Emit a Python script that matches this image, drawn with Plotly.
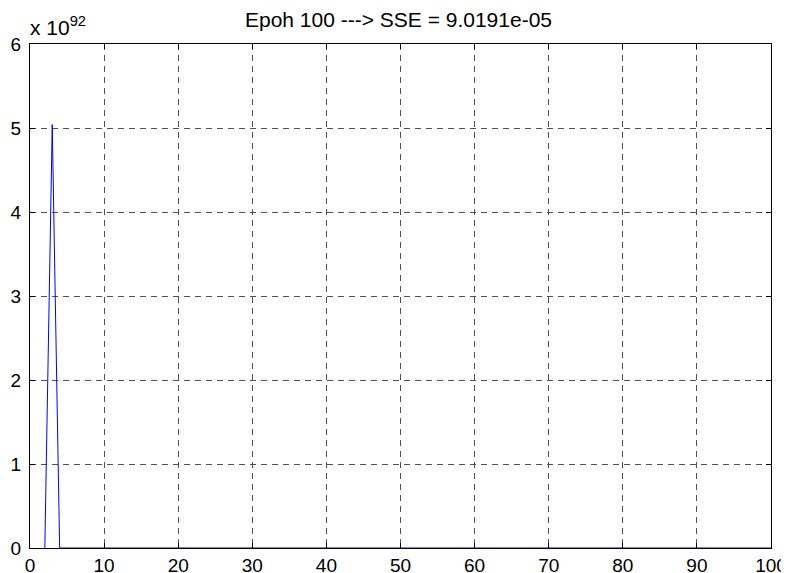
import plotly.graph_objects as go

x_vals = list(range(2, 101))
y_vals = [0.0, 5.04e92] + [0.0] * 97

x_ticks = [0, 10, 20, 30, 40, 50, 60, 70, 80, 90, 100]
y_ticks = [0, 1e92, 2e92, 3e92, 4e92, 5e92, 6e92]
y_tick_text = ["0", "1", "2", "3", "4", "5", "6"]

title_text = "Epoh 100 ---> SSE = 9.0191e-05"

# page body has an 8px margin; figure is sized so the plot area lands where the reference has it
W, H = 781, 565

fig = go.Figure()
fig.add_trace(go.Scatter(x=x_vals, y=y_vals, mode="lines",
                         line=dict(color="#0000ff", width=1), showlegend=False,
                         hoverinfo="skip"))

axis_common = dict(
    showline=True, linecolor="black", linewidth=1, mirror="ticks",
    ticks="inside", ticklen=5, tickcolor="black",
    showgrid=True, gridcolor="#505050", gridwidth=1, griddash="6px,5px",
    zeroline=False, automargin=False,
    tickfont=dict(family="Liberation Sans, Arial", size=19, color="black"),
)

fig.update_layout(
    width=W, height=H,
    margin=dict(l=22, r=18, t=36, b=25),
    paper_bgcolor="white", plot_bgcolor="white",
    title=dict(text=title_text, x=0.5, xanchor="center", y=1 - 12/H, yanchor="middle",
               font=dict(family="Liberation Sans, Arial", size=21, color="black")),
    xaxis=dict(range=[0, 100], tickvals=x_ticks, ticklabelstandoff=0, **axis_common),
    yaxis=dict(range=[0, 6e92], tickvals=y_ticks, ticktext=y_tick_text,
               ticklabelstandoff=4, **axis_common),
    annotations=[dict(text="x 10<sup>92</sup>", xref="paper", yref="paper",
                      x=0, y=1, xanchor="left", yanchor="bottom", showarrow=False,
                      xshift=-2, yshift=3,
                      font=dict(family="Liberation Sans, Arial", size=21, color="black"))],
)

fig.write_html("out.html")
